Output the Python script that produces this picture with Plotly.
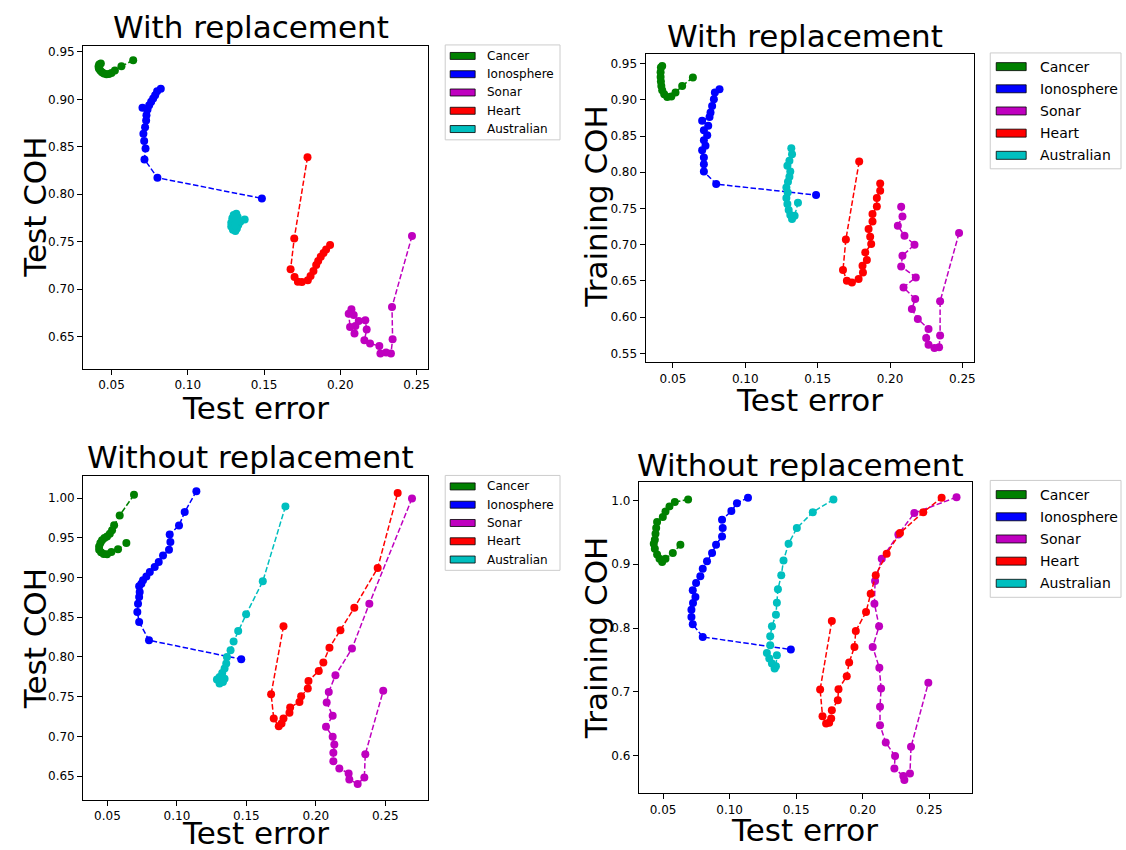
import plotly.graph_objects as go

W, H = 1126, 850
FONT = "DejaVu Sans"

DATASETS = ["Cancer", "Ionosphere", "Sonar", "Heart", "Australian"]
COLORS = ["#008000", "#0000ff", "#bf00bf", "#ff0000", "#00bfbf"]

# ---- With replacement: test error vs test COH ----
CANCER_WR_TEST_X = [0.0642, 0.0565, 0.0522, 0.0500, 0.0483, 0.0467, 0.0450, 0.0437, 0.0426, 0.0417, 0.0415, 0.0419, 0.0430]
CANCER_WR_TEST_Y = [0.9412, 0.9349, 0.9304, 0.9279, 0.9268, 0.9265, 0.9272, 0.9286, 0.9304, 0.9325, 0.9346, 0.9367, 0.9377]
IONO_WR_TEST_X = [0.0823, 0.0799, 0.0786, 0.0773, 0.0760, 0.0747, 0.0736, 0.0703, 0.0729, 0.0727, 0.0720, 0.0709, 0.0714, 0.0723, 0.0716, 0.0801, 0.1486]
IONO_WR_TEST_Y = [0.9111, 0.9086, 0.9044, 0.9009, 0.8974, 0.8939, 0.8893, 0.8911, 0.8833, 0.8777, 0.8707, 0.8637, 0.8560, 0.8482, 0.8367, 0.8174, 0.7956]
SONAR_WR_TEST_X = [0.2470, 0.2339, 0.2343, 0.2332, 0.2300, 0.2263, 0.2256, 0.2195, 0.2158, 0.2173, 0.2164, 0.2121, 0.2099, 0.2093, 0.2064, 0.2055, 0.2073, 0.2088]
SONAR_WR_TEST_Y = [0.7560, 0.6812, 0.6472, 0.6321, 0.6332, 0.6321, 0.6402, 0.6426, 0.6461, 0.6574, 0.6672, 0.6665, 0.6612, 0.6532, 0.6602, 0.6742, 0.6788, 0.6728]
HEART_WR_TEST_X = [0.1785, 0.1698, 0.1674, 0.1700, 0.1722, 0.1748, 0.1787, 0.1805, 0.1824, 0.1842, 0.1855, 0.1872, 0.1890, 0.1907, 0.1933]
HEART_WR_TEST_Y = [0.8391, 0.7535, 0.7209, 0.7128, 0.7079, 0.7075, 0.7093, 0.7139, 0.7191, 0.7254, 0.7296, 0.7342, 0.7381, 0.7419, 0.7465]
AUSTR_WR_TEST_X = [0.1373, 0.1344, 0.1331, 0.1322, 0.1312, 0.1296, 0.1285, 0.1285, 0.1292, 0.1301, 0.1318, 0.1327, 0.1318, 0.1310]
AUSTR_WR_TEST_Y = [0.7735, 0.7710, 0.7675, 0.7640, 0.7612, 0.7626, 0.7661, 0.7700, 0.7746, 0.7781, 0.7795, 0.7760, 0.7718, 0.7675]

# ---- With replacement: test error vs training COH ----
CANCER_WR_TRAIN_X = [0.0638, 0.0564, 0.0518, 0.0489, 0.0461, 0.0440, 0.0426, 0.0420, 0.0417, 0.0415, 0.0415, 0.0417, 0.0426]
CANCER_WR_TRAIN_Y = [0.9307, 0.9192, 0.9100, 0.9045, 0.9040, 0.9077, 0.9132, 0.9192, 0.9252, 0.9316, 0.9380, 0.9445, 0.9468]
IONO_WR_TRAIN_X = [0.0822, 0.0790, 0.0783, 0.0771, 0.0760, 0.0753, 0.0702, 0.0744, 0.0714, 0.0737, 0.0714, 0.0725, 0.0702, 0.0714, 0.0714, 0.0714, 0.0799, 0.1489]
IONO_WR_TRAIN_Y = [0.9146, 0.9100, 0.9008, 0.8916, 0.8824, 0.8764, 0.8709, 0.8640, 0.8580, 0.8511, 0.8443, 0.8364, 0.8305, 0.8203, 0.8111, 0.8010, 0.7836, 0.7684]
SONAR_WR_TRAIN_X = [0.2477, 0.2346, 0.2346, 0.2339, 0.2307, 0.2266, 0.2250, 0.2266, 0.2192, 0.2151, 0.2174, 0.2093, 0.2178, 0.2077, 0.2086, 0.2169, 0.2100, 0.2054, 0.2086, 0.2077]
SONAR_WR_TRAIN_Y = [0.7160, 0.6217, 0.5744, 0.5583, 0.5574, 0.5619, 0.5711, 0.5836, 0.5974, 0.6111, 0.6249, 0.6410, 0.6548, 0.6700, 0.6847, 0.6999, 0.7123, 0.7261, 0.7390, 0.7523]
HEART_WR_TRAIN_X = [0.1787, 0.1695, 0.1675, 0.1702, 0.1737, 0.1783, 0.1813, 0.1810, 0.1840, 0.1829, 0.1870, 0.1863, 0.1852, 0.1879, 0.1879, 0.1909, 0.1909, 0.1932, 0.1932]
HEART_WR_TRAIN_Y = [0.8148, 0.7072, 0.6650, 0.6502, 0.6479, 0.6525, 0.6617, 0.6709, 0.6787, 0.6893, 0.7008, 0.7109, 0.7215, 0.7321, 0.7422, 0.7528, 0.7643, 0.7744, 0.7845]
AUSTR_WR_TRAIN_X = [0.1318, 0.1323, 0.1305, 0.1291, 0.1311, 0.1305, 0.1295, 0.1284, 0.1293, 0.1284, 0.1291, 0.1300, 0.1311, 0.1323, 0.1341, 0.1364]
AUSTR_WR_TRAIN_Y = [0.8332, 0.8249, 0.8157, 0.8089, 0.8010, 0.7937, 0.7868, 0.7790, 0.7721, 0.7643, 0.7560, 0.7477, 0.7408, 0.7353, 0.7399, 0.7578]

# ---- Without replacement: test error vs test COH ----
CANCER_NR_TEST_X = [0.0691, 0.0588, 0.0548, 0.0533, 0.0517, 0.0497, 0.0478, 0.0461, 0.0449, 0.0440, 0.0440, 0.0454, 0.0473, 0.0497, 0.0528, 0.0576, 0.0636]
CANCER_NR_TEST_Y = [1.0042, 0.9782, 0.9657, 0.9594, 0.9552, 0.9518, 0.9497, 0.9468, 0.9434, 0.9392, 0.9350, 0.9317, 0.9296, 0.9292, 0.9321, 0.9355, 0.9434]
IONO_NR_TEST_X = [0.1140, 0.1056, 0.1015, 0.0948, 0.0953, 0.0943, 0.0900, 0.0869, 0.0840, 0.0805, 0.0780, 0.0756, 0.0744, 0.0728, 0.0732, 0.0728, 0.0720, 0.0715, 0.0728, 0.0799, 0.1463]
IONO_NR_TEST_Y = [1.0088, 0.9824, 0.9656, 0.9543, 0.9447, 0.9350, 0.9279, 0.9195, 0.9132, 0.9070, 0.9014, 0.8965, 0.8923, 0.8889, 0.8818, 0.8755, 0.8671, 0.8566, 0.8441, 0.8210, 0.7971]
SONAR_NR_TEST_X = [0.2692, 0.2385, 0.2260, 0.2141, 0.2093, 0.2078, 0.2121, 0.2073, 0.2121, 0.2133, 0.2126, 0.2126, 0.2169, 0.2236, 0.2241, 0.2301, 0.2349, 0.2356, 0.2485]
SONAR_NR_TEST_Y = [0.9996, 0.8671, 0.8105, 0.7770, 0.7560, 0.7427, 0.7259, 0.7120, 0.6994, 0.6897, 0.6793, 0.6688, 0.6596, 0.6533, 0.6457, 0.6399, 0.6483, 0.6776, 0.7573]
HEART_NR_TEST_X = [0.1767, 0.1678, 0.1697, 0.1733, 0.1753, 0.1767, 0.1810, 0.1815, 0.1882, 0.1894, 0.1942, 0.1947, 0.2021, 0.2054, 0.2098, 0.2177, 0.2277, 0.2445, 0.2589]
HEART_NR_TEST_Y = [0.8386, 0.7531, 0.7225, 0.7128, 0.7162, 0.7225, 0.7296, 0.7363, 0.7434, 0.7505, 0.7602, 0.7698, 0.7824, 0.7929, 0.8117, 0.8335, 0.8620, 0.9120, 1.0063]
AUSTR_NR_TEST_X = [0.1781, 0.1618, 0.1498, 0.1441, 0.1408, 0.1386, 0.1360, 0.1355, 0.1343, 0.1326, 0.1307, 0.1288, 0.1307, 0.1331, 0.1343]
AUSTR_NR_TEST_Y = [0.9895, 0.8952, 0.8537, 0.8327, 0.8193, 0.8084, 0.8000, 0.7917, 0.7854, 0.7799, 0.7749, 0.7715, 0.7665, 0.7686, 0.7727]

# ---- Without replacement: test error vs training COH ----
CANCER_NR_TRAIN_X = [0.0688, 0.0588, 0.0548, 0.0518, 0.0498, 0.0455, 0.0448, 0.0443, 0.0438, 0.0430, 0.0438, 0.0455, 0.0473, 0.0493, 0.0518, 0.0573, 0.0630]
CANCER_NR_TRAIN_Y = [1.0016, 0.9974, 0.9906, 0.9828, 0.9739, 0.9661, 0.9567, 0.9478, 0.9385, 0.9322, 0.9244, 0.9155, 0.9087, 0.9035, 0.9087, 0.9176, 0.9306]
IONO_NR_TRAIN_X = [0.1138, 0.1055, 0.1013, 0.0943, 0.0948, 0.0943, 0.0898, 0.0868, 0.0830, 0.0798, 0.0780, 0.0748, 0.0723, 0.0743, 0.0725, 0.0713, 0.0713, 0.0723, 0.0798, 0.1460]
IONO_NR_TRAIN_Y = [1.0042, 0.9958, 0.9833, 0.9698, 0.9567, 0.9437, 0.9306, 0.9176, 0.9046, 0.8931, 0.8811, 0.8707, 0.8592, 0.8488, 0.8394, 0.8289, 0.8175, 0.8060, 0.7862, 0.7664]
SONAR_NR_TRAIN_X = [0.2705, 0.2388, 0.2268, 0.2143, 0.2093, 0.2088, 0.2123, 0.2075, 0.2125, 0.2138, 0.2130, 0.2130, 0.2173, 0.2243, 0.2238, 0.2305, 0.2313, 0.2355, 0.2363, 0.2493]
SONAR_NR_TRAIN_Y = [1.0052, 0.9802, 0.9468, 0.9087, 0.8738, 0.8383, 0.8029, 0.7705, 0.7377, 0.7054, 0.6767, 0.6480, 0.6209, 0.5995, 0.5802, 0.5682, 0.5619, 0.5724, 0.6141, 0.7142]
HEART_NR_TRAIN_X = [0.1768, 0.1680, 0.1698, 0.1725, 0.1748, 0.1763, 0.1768, 0.1813, 0.1818, 0.1880, 0.1898, 0.1938, 0.1948, 0.2025, 0.2060, 0.2098, 0.2180, 0.2280, 0.2455, 0.2593]
HEART_NR_TRAIN_Y = [0.8112, 0.7038, 0.6621, 0.6506, 0.6516, 0.6584, 0.6714, 0.6871, 0.7043, 0.7246, 0.7460, 0.7705, 0.7956, 0.8253, 0.8540, 0.8827, 0.9166, 0.9489, 0.9817, 1.0042]
AUSTR_NR_TRAIN_X = [0.1780, 0.1625, 0.1505, 0.1443, 0.1405, 0.1388, 0.1363, 0.1355, 0.1348, 0.1318, 0.1305, 0.1305, 0.1280, 0.1298, 0.1318, 0.1338, 0.1348, 0.1355]
AUSTR_NR_TRAIN_Y = [1.0016, 0.9817, 0.9567, 0.9322, 0.9061, 0.8827, 0.8608, 0.8399, 0.8211, 0.8029, 0.7872, 0.7731, 0.7611, 0.7523, 0.7445, 0.7366, 0.7403, 0.7575]

X_TICKS = [0.05, 0.10, 0.15, 0.20, 0.25]
Y_TICKS_WR_TEST = [0.65, 0.70, 0.75, 0.80, 0.85, 0.90, 0.95]
Y_TICKS_WR_TRAIN = [0.55, 0.60, 0.65, 0.70, 0.75, 0.80, 0.85, 0.90, 0.95]
Y_TICKS_NR_TEST = [0.65, 0.70, 0.75, 0.80, 0.85, 0.90, 0.95, 1.00]
Y_TICKS_NR_TRAIN = [0.6, 0.7, 0.8, 0.9, 1.0]

panels = [
    dict(series=[(CANCER_WR_TEST_X, CANCER_WR_TEST_Y), (IONO_WR_TEST_X, IONO_WR_TEST_Y),
                 (SONAR_WR_TEST_X, SONAR_WR_TEST_Y), (HEART_WR_TEST_X, HEART_WR_TEST_Y),
                 (AUSTR_WR_TEST_X, AUSTR_WR_TEST_Y)],
         box=(83.3, 428.3, 44.7, 368.0), xr=[0.0314, 0.2572], yr=[0.6163, 0.9566],
         yt=Y_TICKS_WR_TEST, yfmt="{:.2f}", title="With replacement", ttl=(251, 26),
         xlab=(256, 407), ylabel="Test COH", ylab=(35, 206),
         legend=dict(frame=(446, 561, 44, 139), row0=55, step=18.3, patch=(451, 476, 7), tx=486, fs=12)),
    dict(series=[(CANCER_WR_TRAIN_X, CANCER_WR_TRAIN_Y), (IONO_WR_TRAIN_X, IONO_WR_TRAIN_Y),
                 (SONAR_WR_TRAIN_X, SONAR_WR_TRAIN_Y), (HEART_WR_TRAIN_X, HEART_WR_TRAIN_Y),
                 (AUSTR_WR_TRAIN_X, AUSTR_WR_TRAIN_Y)],
         box=(646.7, 975.7, 53.3, 361.7), xr=[0.0311, 0.2580], yr=[0.5376, 0.9629],
         yt=Y_TICKS_WR_TRAIN, yfmt="{:.2f}", title="With replacement", ttl=(806, 35),
         xlab=(811, 399), ylabel="Training COH", ylab=(597, 205),
         legend=dict(frame=(992, 1123, 52, 168), row0=65.7, step=22.2, patch=(998, 1028, 8), tx=1040, fs=14)),
    dict(series=[(CANCER_NR_TEST_X, CANCER_NR_TEST_Y), (IONO_NR_TEST_X, IONO_NR_TEST_Y),
                 (SONAR_NR_TEST_X, SONAR_NR_TEST_Y), (HEART_NR_TEST_X, HEART_NR_TEST_Y),
                 (AUSTR_NR_TEST_X, AUSTR_NR_TEST_Y)],
         box=(83.3, 429.0, 476.0, 800.0), xr=[0.0325, 0.2809], yr=[0.6198, 1.0273],
         yt=Y_TICKS_NR_TEST, yfmt="{:.2f}", title="Without replacement", ttl=(251, 457),
         xlab=(256, 833), ylabel="Test COH", ylab=(35, 638),
         legend=dict(frame=(446, 561, 475, 570), row0=486, step=18.3, patch=(451, 476, 7), tx=486, fs=12)),
    dict(series=[(CANCER_NR_TRAIN_X, CANCER_NR_TRAIN_Y), (IONO_NR_TRAIN_X, IONO_NR_TRAIN_Y),
                 (SONAR_NR_TRAIN_X, SONAR_NR_TRAIN_Y), (HEART_NR_TRAIN_X, HEART_NR_TRAIN_Y),
                 (AUSTR_NR_TRAIN_X, AUSTR_NR_TRAIN_Y)],
         box=(640.0, 973.3, 481.7, 793.3), xr=[0.0318, 0.2818], yr=[0.5411, 1.0287],
         yt=Y_TICKS_NR_TRAIN, yfmt="{:.1f}", title="Without replacement", ttl=(802, 465),
         xlab=(806, 830), ylabel="Training COH", ylab=(597, 637),
         legend=dict(frame=(992, 1123, 480, 597), row0=494.2, step=22.2, patch=(998, 1028, 8), tx=1040, fs=14)),
]


def px(x):
    return x / W


def py(y):
    return 1 - y / H


fig = go.Figure()
layout = dict(
    width=W, height=H, margin=dict(l=0, r=0, t=0, b=0),
    paper_bgcolor="white", plot_bgcolor="white",
    font=dict(family=FONT, color="black"), showlegend=False,
)
shapes, annotations = [], []

for i, p in enumerate(panels, start=1):
    xa = "x" if i == 1 else f"x{i}"
    ya = "y" if i == 1 else f"y{i}"
    x0, x1, y0, y1 = p["box"]
    axis_common = dict(
        showline=True, linecolor="black", linewidth=1, mirror=True,
        ticks="outside", ticklen=5, tickwidth=1, tickcolor="black",
        showgrid=False, zeroline=False, tickfont=dict(family=FONT, size=12, color="black"),
    )
    layout["xaxis" if i == 1 else f"xaxis{i}"] = dict(
        axis_common, domain=[px(x0), px(x1)], range=p["xr"], anchor=ya,
        tickvals=X_TICKS, ticktext=[f"{v:.2f}" for v in X_TICKS],
    )
    layout["yaxis" if i == 1 else f"yaxis{i}"] = dict(
        axis_common, domain=[py(y1), py(y0)], range=p["yr"], anchor=xa,
        tickvals=p["yt"], ticktext=[p["yfmt"].format(v) for v in p["yt"]],
    )
    for (xs, ys), color in zip(p["series"], COLORS):
        fig.add_trace(go.Scatter(
            x=xs, y=ys, mode="lines+markers", xaxis=xa, yaxis=ya,
            line=dict(color=color, width=1.5, dash="5.5px,2.4px"),
            marker=dict(color=color, size=8),
        ))

    # panel title and axis labels
    annotations.append(dict(text=p["title"], x=px(p["ttl"][0]), y=py(p["ttl"][1]),
                            xref="paper", yref="paper", showarrow=False,
                            xanchor="center", yanchor="middle", font=dict(size=31, family=FONT)))
    annotations.append(dict(text="Test error", x=px(p["xlab"][0]), y=py(p["xlab"][1]),
                            xref="paper", yref="paper", showarrow=False,
                            xanchor="center", yanchor="middle", font=dict(size=31, family=FONT)))
    annotations.append(dict(text=p["ylabel"], x=px(p["ylab"][0]), y=py(p["ylab"][1]),
                            xref="paper", yref="paper", showarrow=False, textangle=-90,
                            xanchor="center", yanchor="middle", font=dict(size=31, family=FONT)))

    # legend box with colour patches
    lg = p["legend"]
    fx0, fx1, fy0, fy1 = lg["frame"]
    shapes.append(dict(type="rect", xref="paper", yref="paper",
                       x0=px(fx0), x1=px(fx1), y0=py(fy1), y1=py(fy0),
                       line=dict(color="#cccccc", width=1), fillcolor="white", layer="above"))
    for k, (name, color) in enumerate(zip(DATASETS, COLORS)):
        cy = lg["row0"] + k * lg["step"]
        pa, pb, ph = lg["patch"]
        shapes.append(dict(type="rect", xref="paper", yref="paper",
                           x0=px(pa), x1=px(pb), y0=py(cy + ph / 2), y1=py(cy - ph / 2),
                           line=dict(color="black", width=0.8), fillcolor=color, layer="above"))
        annotations.append(dict(text=name, x=px(lg["tx"]), y=py(cy), xref="paper", yref="paper",
                                showarrow=False, xanchor="left", yanchor="middle",
                                font=dict(size=lg["fs"], family=FONT)))

layout["shapes"] = shapes
layout["annotations"] = annotations
fig.update_layout(**layout)
fig.write_html("out.html")
